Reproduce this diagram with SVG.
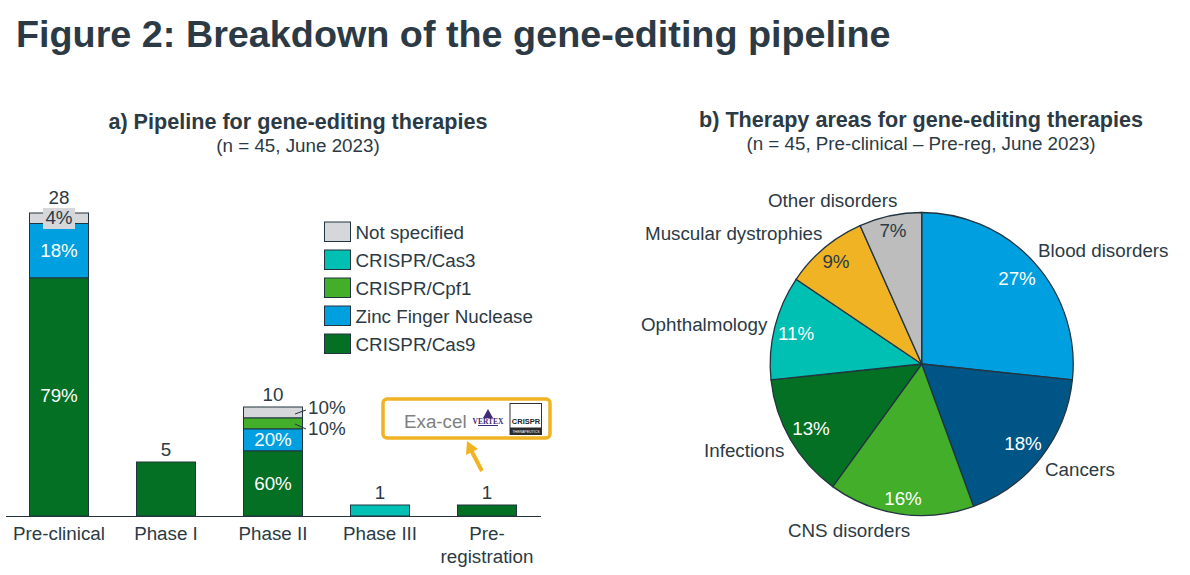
<svg xmlns="http://www.w3.org/2000/svg" width="1190" height="575" viewBox="0 0 1190 575">
<style>
text{font-family:"Liberation Sans",Arial,sans-serif;fill:#2b3a44}
.t{font-size:18.800px}.m{text-anchor:middle}.w{fill:#fff}
.h{font-size:21.600px;font-weight:bold}
.s{stroke:#22343f;stroke-width:1}
.p{stroke:#22343f;stroke-width:1.3}
.cas9{fill:#037024}.zfn{fill:#00a0e0}.cpf{fill:#42ae2a}.cas3{fill:#00bfb3}.ns{fill:#d5d7da}
</style>
<rect width="1190" height="575" fill="#fff"/>
<text id="title" x="16" y="47" style="font-size:37.750px;font-weight:bold">Figure 2: Breakdown of the gene-editing pipeline</text>
<g id="chart-a">
<text class="h m" x="298" y="129">a) Pipeline for gene-editing therapies</text>
<text class="t m" x="298" y="152">(n = 45, June 2023)</text>
<g id="bar-preclinical">
<rect class="s ns" x="29.500" y="213" width="59" height="10.500"/>
<rect class="s zfn" x="29.500" y="223.500" width="59" height="54.500"/>
<rect class="s cas9" x="29.500" y="278" width="59" height="238"/>
<rect class="ns" x="43" y="208" width="32" height="21"/>
<text class="t m" x="59" y="204">28</text>
<text class="t m" x="59" y="224">4%</text>
<text class="t m w" x="59" y="257">18%</text>
<text class="t m w" x="59" y="402">79%</text>
</g>
<g id="bar-phase1">
<rect class="s cas9" x="136.500" y="462" width="59" height="54"/>
<text class="t m" x="166" y="456">5</text>
</g>
<g id="bar-phase2">
<rect class="s ns" x="243.500" y="407" width="59" height="11"/>
<rect class="s cpf" x="243.500" y="418" width="59" height="11"/>
<rect class="s zfn" x="243.500" y="429" width="59" height="22"/>
<rect class="s cas9" x="243.500" y="451" width="59" height="65"/>
<text class="t m" x="273" y="401">10</text>
<text class="t m w" x="273" y="446">20%</text>
<text class="t m w" x="273" y="490">60%</text>
<text class="t" x="308" y="414">10%</text>
<text class="t" x="308" y="435">10%</text>
<path d="M295 414L306 410M295 424L306 429" class="s" fill="none"/>
</g>
<g id="bar-phase3">
<rect class="s cas3" x="350.500" y="505" width="59" height="11"/>
<text class="t m" x="380" y="499">1</text>
</g>
<g id="bar-prereg">
<rect class="s cas9" x="457.500" y="505" width="59" height="11"/>
<text class="t m" x="487" y="499">1</text>
</g>
<path id="axis" d="M6 516.500H541" stroke="#22343f" stroke-width="1" fill="none"/>
<g>
<text class="t m" x="59" y="540">Pre-clinical</text>
<text class="t m" x="166" y="540">Phase I</text>
<text class="t m" x="273" y="540">Phase II</text>
<text class="t m" x="380" y="540">Phase III</text>
<text class="t m" x="487" y="540">Pre-</text>
<text class="t m" x="487" y="563">registration</text>
</g>
<g id="legend">
<rect class="s ns" x="324.500" y="222" width="26" height="19.500"/>
<rect class="s cas3" x="324.500" y="250" width="26" height="19.500"/>
<rect class="s cpf" x="324.500" y="278" width="26" height="19.500"/>
<rect class="s zfn" x="324.500" y="306" width="26" height="19.500"/>
<rect class="s cas9" x="324.500" y="334" width="26" height="19.500"/>
<text class="t" x="355.500" y="239">Not specified</text>
<text class="t" x="355.500" y="267">CRISPR/Cas3</text>
<text class="t" x="355.500" y="295">CRISPR/Cpf1</text>
<text class="t" x="355.500" y="323">Zinc Finger Nuclease</text>
<text class="t" x="355.500" y="351">CRISPR/Cas9</text>
</g>
<g id="callout">
<rect x="383" y="399" width="167" height="39" rx="4" fill="#fff" stroke="#f0b323" stroke-width="3.500"/>
<text x="404" y="428" style="font-size:18.800px;fill:#7f7f7f">Exa-cel</text>
<path d="M488 409L493 418H483Z" fill="#3f2a78"/>
<path d="M478 425.500H498" stroke="#3f2a78" stroke-width="1"/>
<text x="488" y="424" text-anchor="middle" style="font-family:'Liberation Serif',serif;font-size:7.500px;font-weight:bold;fill:#3f2a78">VERTEX</text>
<rect x="510" y="403.500" width="31.500" height="31" fill="#fff" stroke="#333" stroke-width="1"/>
<rect x="510" y="427.500" width="31.500" height="7" fill="#2a2a2a"/>
<text x="526" y="424" text-anchor="middle" style="font-size:7.500px;font-weight:bold;fill:#222">CRISPR</text>
<text x="526" y="432.500" text-anchor="middle" style="font-size:3.500px;fill:#fff">THERAPEUTICS</text>
<path d="M482 471L471 450" stroke="#f0b323" stroke-width="4" fill="none"/>
<path d="M467 441L478 449L466 455Z" fill="#f0b323"/>
</g>
</g>
<g id="chart-b">
<text class="h m" x="921" y="127">b) Therapy areas for gene-editing therapies</text>
<text class="t m" x="921" y="150">(n = 45, Pre-clinical – Pre-reg, June 2023)</text>
<g id="pie">
<path id="slice-blood" class="p zfn" d="M921.700 364V212.500A151.500 151.500 0 0 1 1072.400 379.800Z"/>
<path id="slice-cancers" class="p" fill="#005587" d="M921.700 364L1072.400 379.800A151.500 151.500 0 0 1 973.500 506.400Z"/>
<path id="slice-cns" class="p cpf" d="M921.700 364L973.500 506.400A151.500 151.500 0 0 1 832.700 486.600Z"/>
<path id="slice-infections" class="p cas9" d="M921.700 364L832.700 486.600A151.500 151.500 0 0 1 771 379.800Z"/>
<path id="slice-ophthalmology" class="p cas3" d="M921.700 364L771 379.800A151.500 151.500 0 0 1 796.100 279.300Z"/>
<path id="slice-muscular" class="p" fill="#f0b323" d="M921.700 364L796.100 279.300A151.500 151.500 0 0 1 860.100 225.600Z"/>
<path id="slice-other" class="p" fill="#bdbdbd" d="M921.700 364L860.100 225.600A151.500 151.500 0 0 1 921.700 212.500Z"/>
</g>
<text class="t m w" x="1017" y="285">27%</text>
<text class="t m w" x="1023" y="450">18%</text>
<text class="t m w" x="903" y="505">16%</text>
<text class="t m w" x="811" y="435">13%</text>
<text class="t m w" x="796" y="340">11%</text>
<text class="t m" x="836" y="268">9%</text>
<text class="t m" x="893" y="237">7%</text>
<text class="t" x="1038" y="257">Blood disorders</text>
<text class="t" x="1045" y="476">Cancers</text>
<text class="t m" x="849" y="537">CNS disorders</text>
<text class="t" x="704" y="457">Infections</text>
<text class="t" x="641" y="331">Ophthalmology</text>
<text class="t" x="645" y="240">Muscular dystrophies</text>
<text class="t" x="768" y="207">Other disorders</text>
</g>
</svg>
